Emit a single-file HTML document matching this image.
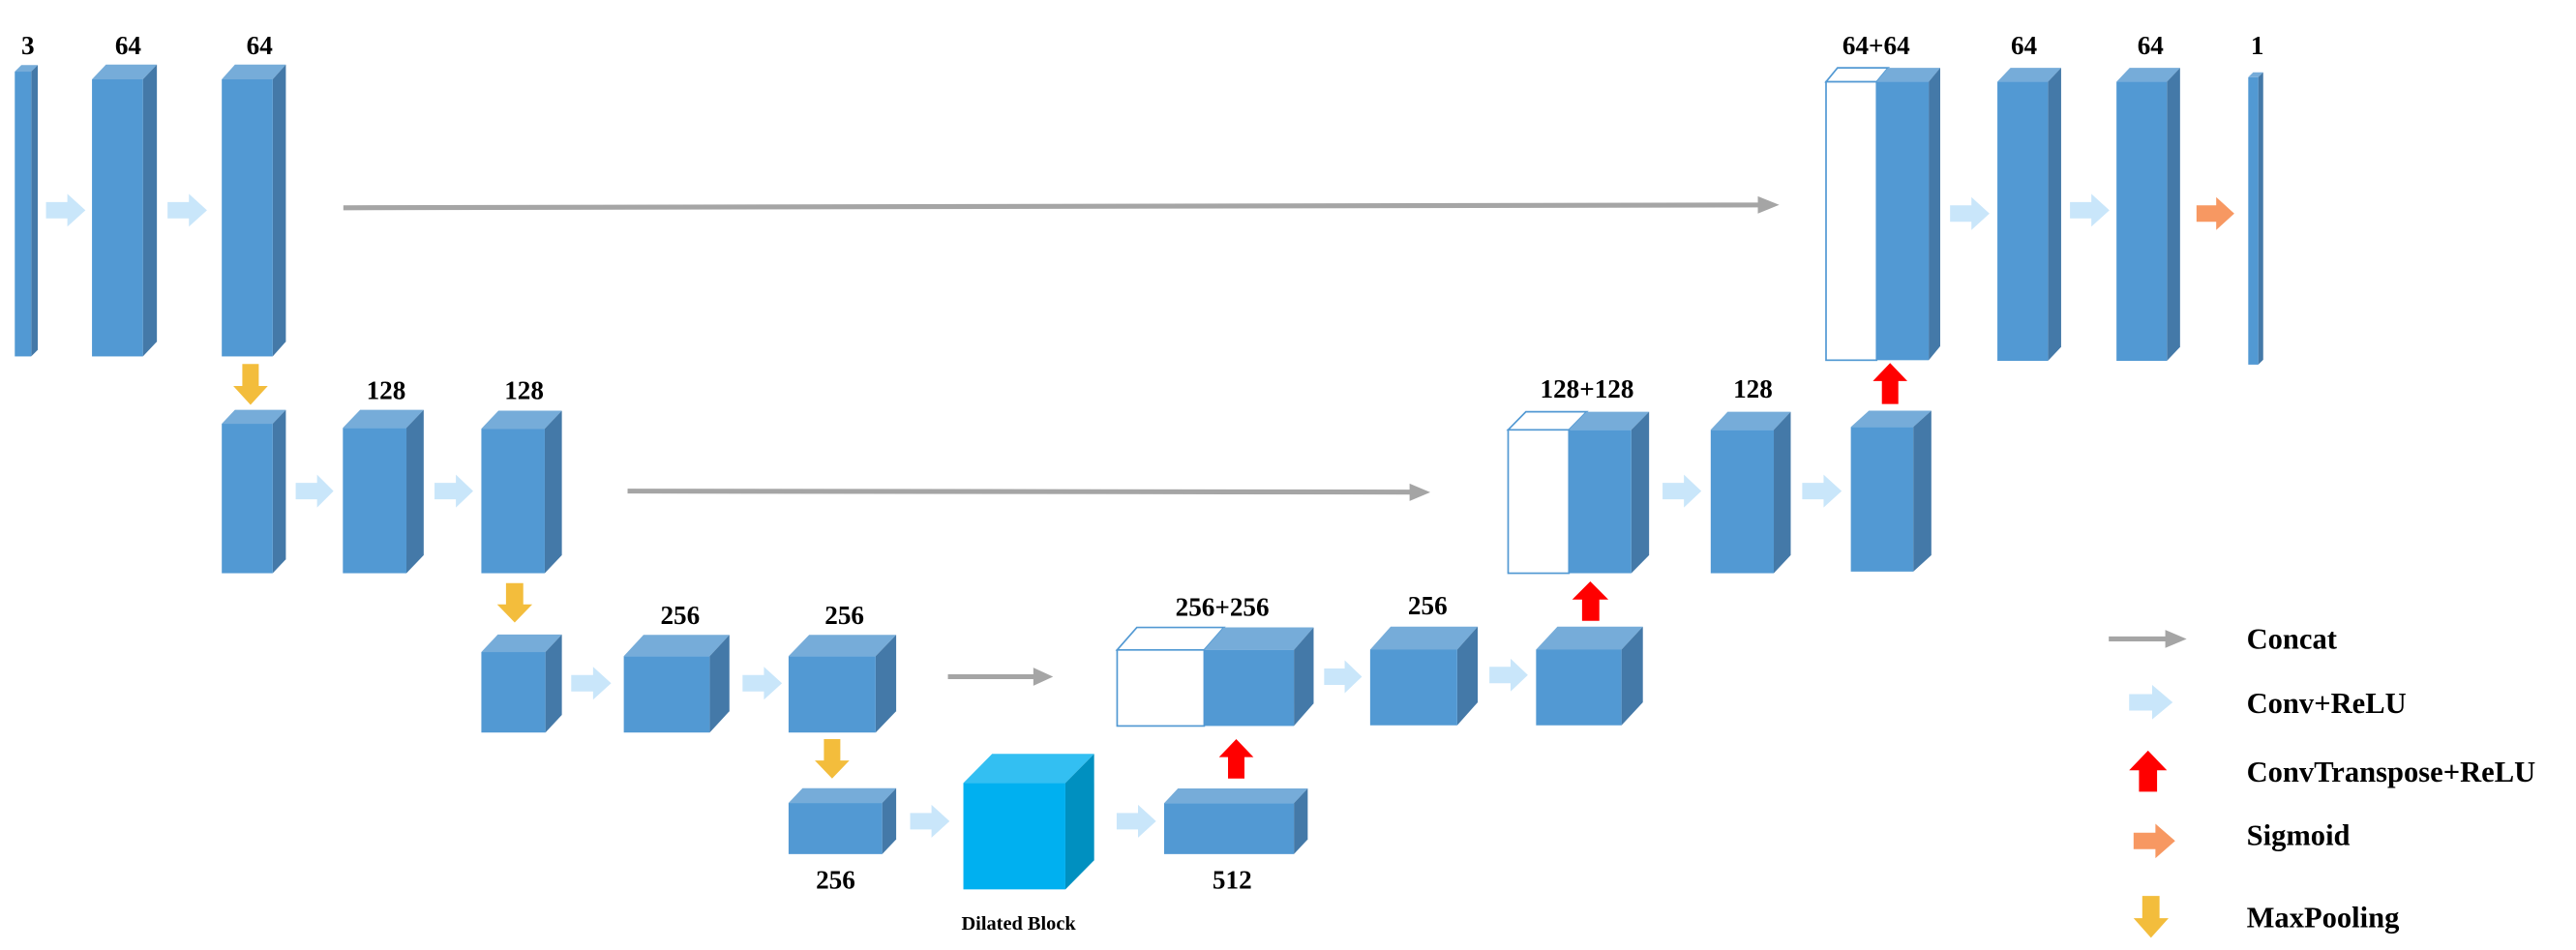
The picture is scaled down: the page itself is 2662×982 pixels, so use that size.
<!DOCTYPE html>
<html><head><meta charset="utf-8"><style>
html,body{margin:0;padding:0;background:#fff;}
svg{display:block;}
text{font-family:"Liberation Serif",serif;font-weight:bold;fill:#000;}
</style></head><body>
<svg width="2662" height="982" viewBox="0 0 1568 578.4" preserveAspectRatio="none" xmlns="http://www.w3.org/2000/svg">
<g>
<polygon points="9,43.6 13,39.6 23,39.6 19,43.6" fill="#76acd9"/><polygon points="19,43.6 23,39.6 23,213 19,217" fill="#4479a8"/><rect x="9" y="43.6" width="10" height="173.4" fill="#5299d3"/>
<polygon points="56,48.3 64.5,39.3 95.5,39.3 87,48.3" fill="#76acd9"/><polygon points="87,48.3 95.5,39.3 95.5,208 87,217" fill="#4479a8"/><rect x="56" y="48.3" width="31" height="168.7" fill="#5299d3"/>
<polygon points="135,48.3 143,39.3 174,39.3 166,48.3" fill="#76acd9"/><polygon points="166,48.3 174,39.3 174,208 166,217" fill="#4479a8"/><rect x="135" y="48.3" width="31" height="168.7" fill="#5299d3"/>
<polygon points="135,258 143,249.5 174,249.5 166,258" fill="#76acd9"/><polygon points="166,258 174,249.5 174,340.5 166,349" fill="#4479a8"/><rect x="135" y="258" width="31" height="91" fill="#5299d3"/>
<polygon points="208.7,260.5 219.2,249.5 257.9,249.5 247.4,260.5" fill="#76acd9"/><polygon points="247.4,260.5 257.9,249.5 257.9,338 247.4,349" fill="#4479a8"/><rect x="208.7" y="260.5" width="38.7" height="88.5" fill="#5299d3"/>
<polygon points="293,261 303.4,250 342,250 331.6,261" fill="#76acd9"/><polygon points="331.6,261 342,250 342,338 331.6,349" fill="#4479a8"/><rect x="293" y="261" width="38.6" height="88" fill="#5299d3"/>
<polygon points="293,397 303,386.3 342,386.3 332,397" fill="#76acd9"/><polygon points="332,397 342,386.3 342,435.3 332,446" fill="#4479a8"/><rect x="293" y="397" width="39" height="49" fill="#5299d3"/>
<polygon points="379.7,399.5 391.7,386.5 444,386.5 432,399.5" fill="#76acd9"/><polygon points="432,399.5 444,386.5 444,433 432,446" fill="#4479a8"/><rect x="379.7" y="399.5" width="52.3" height="46.5" fill="#5299d3"/>
<polygon points="480,399.5 492.5,386.5 545.5,386.5 533,399.5" fill="#76acd9"/><polygon points="533,399.5 545.5,386.5 545.5,433 533,446" fill="#4479a8"/><rect x="480" y="399.5" width="53" height="46.5" fill="#5299d3"/>
<polygon points="680,395.7 692,382 745,382 733,395.7" fill="#fff" stroke="#5299d3" stroke-width="1"/><rect x="680" y="395.7" width="53" height="46.3" fill="#fff" stroke="#5299d3" stroke-width="1"/>
<polygon points="733,395.7 745,382 799.6,382 787.6,395.7" fill="#76acd9"/><polygon points="787.6,395.7 799.6,382 799.6,428.3 787.6,442" fill="#4479a8"/><rect x="733" y="395.7" width="54.6" height="46.3" fill="#5299d3"/>
<polygon points="480,488.9 488.5,479.9 545.5,479.9 537,488.9" fill="#76acd9"/><polygon points="537,488.9 545.5,479.9 545.5,511 537,520" fill="#4479a8"/><rect x="480" y="488.9" width="57" height="31.1" fill="#5299d3"/>
<polygon points="586.4,476.7 603.9,459 666,459 648.5,476.7" fill="#33bff2"/><polygon points="648.5,476.7 666,459 666,523.8 648.5,541.5" fill="#0090c0"/><rect x="586.4" y="476.7" width="62.1" height="64.8" fill="#00b0f0"/>
<polygon points="708.6,489 717,480 796,480 787.6,489" fill="#76acd9"/><polygon points="787.6,489 796,480 796,511 787.6,520" fill="#4479a8"/><rect x="708.6" y="489" width="79" height="31" fill="#5299d3"/>
<polygon points="1111.5,49.8 1118.5,41.3 1149.3,41.3 1142.3,49.8" fill="#fff" stroke="#5299d3" stroke-width="1"/><rect x="1111.5" y="49.8" width="30.8" height="169.5" fill="#fff" stroke="#5299d3" stroke-width="1"/>
<polygon points="1142.3,49.8 1149.3,41.3 1181,41.3 1174,49.8" fill="#76acd9"/><polygon points="1174,49.8 1181,41.3 1181,210.8 1174,219.3" fill="#4479a8"/><rect x="1142.3" y="49.8" width="31.7" height="169.5" fill="#5299d3"/>
<polygon points="1215.8,49.8 1223.8,41.3 1254.6,41.3 1246.6,49.8" fill="#76acd9"/><polygon points="1246.6,49.8 1254.6,41.3 1254.6,211.2 1246.6,219.7" fill="#4479a8"/><rect x="1215.8" y="49.8" width="30.8" height="169.9" fill="#5299d3"/>
<polygon points="1288.3,49.8 1296.3,41.3 1327,41.3 1319,49.8" fill="#76acd9"/><polygon points="1319,49.8 1327,41.3 1327,211.2 1319,219.7" fill="#4479a8"/><rect x="1288.3" y="49.8" width="30.7" height="169.9" fill="#5299d3"/>
<polygon points="1368.5,47 1371.5,44 1377.6,44 1374.6,47" fill="#76acd9"/><polygon points="1374.6,47 1377.6,44 1377.6,219 1374.6,222" fill="#4479a8"/><rect x="1368.5" y="47" width="6.1" height="175" fill="#5299d3"/>
<polygon points="918,261.7 928.8,250.7 965.8,250.7 955,261.7" fill="#fff" stroke="#5299d3" stroke-width="1"/><rect x="918" y="261.7" width="37" height="87.3" fill="#fff" stroke="#5299d3" stroke-width="1"/>
<polygon points="955,261.7 965.8,250.7 1003.8,250.7 993,261.7" fill="#76acd9"/><polygon points="993,261.7 1003.8,250.7 1003.8,338 993,349" fill="#4479a8"/><rect x="955" y="261.7" width="38" height="87.3" fill="#5299d3"/>
<polygon points="1041.3,261.7 1051.6,250.7 1090,250.7 1079.7,261.7" fill="#76acd9"/><polygon points="1079.7,261.7 1090,250.7 1090,338 1079.7,349" fill="#4479a8"/><rect x="1041.3" y="261.7" width="38.4" height="87.3" fill="#5299d3"/>
<polygon points="1126.6,260 1137.6,250 1175.6,250 1164.6,260" fill="#76acd9"/><polygon points="1164.6,260 1175.6,250 1175.6,338 1164.6,348" fill="#4479a8"/><rect x="1126.6" y="260" width="38" height="88" fill="#5299d3"/>
<polygon points="834,395.5 846.5,381.5 899.5,381.5 887,395.5" fill="#76acd9"/><polygon points="887,395.5 899.5,381.5 899.5,427.6 887,441.6" fill="#4479a8"/><rect x="834" y="395.5" width="53" height="46.1" fill="#5299d3"/>
<polygon points="935,395.5 948,381.5 1000,381.5 987,395.5" fill="#76acd9"/><polygon points="987,395.5 1000,381.5 1000,427.6 987,441.6" fill="#4479a8"/><rect x="935" y="395.5" width="52" height="46.1" fill="#5299d3"/>
</g>

<g stroke="#a5a5a5" stroke-width="3" fill="#a5a5a5">
<line x1="209" y1="126.5" x2="1072" y2="124.8"/><polygon stroke="none" points="1070,119.5 1083,124.7 1070,130"/>
<line x1="382" y1="299" x2="860" y2="299.6"/><polygon stroke="none" points="858,294.4 870.6,299.7 858,305"/>
<line x1="577" y1="412" x2="631" y2="412"/><polygon stroke="none" points="629,406.5 641,412 629,417.5"/>
<line x1="1283.6" y1="389" x2="1320" y2="389"/><polygon stroke="none" points="1318,383.5 1331,389 1318,394.5"/>
</g>

<g fill="#c9e6fa">
<polygon points="28,123 41,123 41,118 52,128 41,138 41,133 28,133"/>
<polygon points="102,123 115,123 115,118 126,128 115,138 115,133 102,133"/>
<polygon points="180,294 193,294 193,289 203,299 193,309 193,304 180,304"/>
<polygon points="264.5,294 277.5,294 277.5,289 288,299 277.5,309 277.5,304 264.5,304"/>
<polygon points="347.7,411 361,411 361,406 372,416 361,426 361,421 347.7,421"/>
<polygon points="452,411 465,411 465,406 476,416 465,426 465,421 452,421"/>
<polygon points="554,495 567,495 567,490 578,500 567,510 567,505 554,505"/>
<polygon points="679.7,495 692.7,495 692.7,490 703.7,500 692.7,510 692.7,505 679.7,505"/>
<polygon points="806,407 818.5,407 818.5,402 829,412 818.5,422 818.5,417 806,417"/>
<polygon points="906.6,406 919.5,406 919.5,401 930,411 919.5,421 919.5,416 906.6,416"/>
<polygon points="1012,294 1025,294 1025,289 1035.6,299 1025,309 1025,304 1012,304"/>
<polygon points="1097,294 1110,294 1110,289 1121,299 1110,309 1110,304 1097,304"/>
<polygon points="1187,125 1200,125 1200,120 1211,130 1200,140 1200,135 1187,135"/>
<polygon points="1260,123 1273,123 1273,118 1284,128 1273,138 1273,133 1260,133"/>
<polygon points="1296,422.6 1310,422.6 1310,417 1322.5,427.6 1310,438 1310,432.6 1296,432.6"/>
</g>
<g fill="#f79862">
<polygon points="1337,125 1349,125 1349,120 1360,130 1349,140 1349,135 1337,135"/>
<polygon points="1298.7,507 1312,507 1312,501.5 1324,512 1312,522.5 1312,517 1298.7,517"/>
</g>
<g fill="#f3bd3c">
<polygon points="147.5,221.6 157.5,221.6 157.5,235 163,235 152.5,246.5 142,235 147.5,235"/>
<polygon points="308,355 318.5,355 318.5,368 324,368 313.3,379 302.6,368 308,368"/>
<polygon points="501.5,450 511.5,450 511.5,463 517,463 506.5,474 496,463 501.5,463"/>
<polygon points="1304,545.5 1314.5,545.5 1314.5,559 1320,559 1309.3,571 1298.7,559 1304,559"/>
</g>
<g fill="#ff0000">
<polygon points="747.5,474 757.5,474 757.5,461 763,461 752.5,450 742,461 747.5,461"/>
<polygon points="1145.5,246 1155.5,246 1155.5,232 1161,232 1150.5,221 1140,232 1145.5,232"/>
<polygon points="963,378 973.5,378 973.5,365 979,365 968,354 957,365 963,365"/>
<polygon points="1302,482 1313,482 1313,469 1319,469 1307.5,457 1296,469 1302,469"/>
</g>

<g font-size="16" text-anchor="middle">
<text x="17" y="33">3</text>
<text x="78" y="33">64</text>
<text x="158" y="33">64</text>
<text x="235" y="243">128</text>
<text x="319" y="243">128</text>
<text x="414" y="380">256</text>
<text x="514" y="380">256</text>
<text x="744" y="375">256+256</text>
<text x="508.6" y="541">256</text>
<text x="750" y="541">512</text>
<text x="620" y="566" font-size="12">Dilated Block</text>
<text x="1142" y="33">64+64</text>
<text x="1232" y="33">64</text>
<text x="1309" y="33">64</text>
<text x="1374" y="33">1</text>
<text x="966" y="242">128+128</text>
<text x="1067" y="242">128</text>
<text x="869" y="374">256</text>
</g>
<g font-size="18">
<text x="1367.5" y="395">Concat</text>
<text x="1367.5" y="434">Conv+ReLU</text>
<text x="1367.5" y="476">ConvTranspose+ReLU</text>
<text x="1367.5" y="514.5">Sigmoid</text>
<text x="1367.5" y="564.5">MaxPooling</text>
</g>
</svg>
</body></html>
